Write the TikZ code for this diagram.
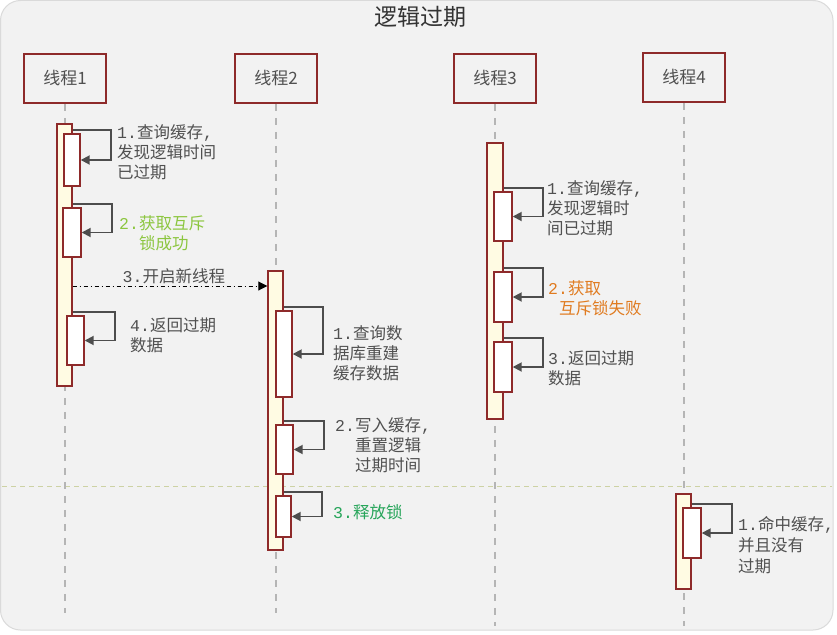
\documentclass[tikz,border=0pt]{standalone}
\usepackage{fontspec}
\setmainfont{Noto Sans CJK SC}
\newfontfamily\monof{Liberation Mono}
\usetikzlibrary{arrows.meta}
\definecolor{bgc}{HTML}{F2F2F2}
\definecolor{bgline}{HTML}{DADADA}
\definecolor{boxred}{HTML}{8E2A2A}
\definecolor{cream}{HTML}{FFFBE3}
\definecolor{txt}{HTML}{505050}
\definecolor{arr}{HTML}{4D4D4D}
\definecolor{lifec}{HTML}{B5B5B5}
\definecolor{sepc}{HTML}{CDD2A4}
\definecolor{lgreen}{HTML}{8CC63F}
\definecolor{dgreen}{HTML}{27A55A}
\definecolor{orng}{HTML}{E07B20}
\newcommand{\mn}[1]{{\monof #1}}
\tikzset{
  hdr/.style={draw=boxred, line width=1.6pt, fill=bgc, minimum width=82pt, minimum height=49pt, inner sep=0pt, text=txt, font=\fontsize{17}{20}\selectfont},
  obar/.style={draw=boxred, line width=1.4pt, fill=cream, inner sep=0pt},
  ibox/.style={draw=boxred, line width=1.4pt, fill=white, inner sep=0pt},
  life/.style={draw=lifec, line width=1.3pt, dash pattern=on 7pt off 7pt},
  loopar/.style={draw=arr, line width=1.8pt, -{Triangle[length=9pt,width=9pt]}},
  lbl/.style={anchor=base west, inner sep=0pt, align=left, text=txt, font=\fontsize{16.5}{20}\selectfont},
  call/.style={draw=black, line width=0.9pt, dash pattern=on 4pt off 3pt on 1pt off 3pt, -{Triangle[length=9pt,width=9pt]}},
}
\begin{document}
\begin{tikzpicture}[x=1pt,y=-1pt]
\useasboundingbox (0,0) rectangle (837,634);
\fill[white] (0,0) rectangle (837,634);
\draw[bgline, fill=bgc, line width=1pt, rounded corners=20pt] (0.5,0.5) rectangle (833,630);

% title
\node[inner sep=0pt, text=black!80, font=\fontsize{23}{26}\selectfont] (title) at (420,17) {逻辑过期};

% headers
\node[hdr] (h1) at (65,78.5) {线程1};
\node[hdr] (h2) at (276,78.5) {线程2};
\node[hdr] (h3) at (495,78.5) {线程3};
\node[hdr] (h4) at (684,77.5) {线程4};

% separator
\coordinate (sepL) at (2,486);
\coordinate (sepR) at (832,486);
\draw[sepc, line width=1pt, dash pattern=on 5pt off 4pt] (sepL) -- (sepR);

% lifelines
\coordinate (e1) at (65,613);
\coordinate (e2) at (276,613);
\coordinate (e3) at (495,626);
\coordinate (e4) at (684,626);
\draw[life] (h1.south) -- (e1);
\draw[life] (h2.south) -- (e2);
\draw[life] (h3.south) -- (e3);
\draw[life] (h4.south) -- (e4);

% activation bars
\node[obar, minimum width=15pt, minimum height=262pt] (o1) at (64.5,255) {};
\node[obar, minimum width=15pt, minimum height=279pt] (o2) at (275.5,410.5) {};
\node[obar, minimum width=16pt, minimum height=276pt] (o3) at (495,281) {};
\node[obar, minimum width=15pt, minimum height=95pt] (o4) at (683.5,541.5) {};

% inner boxes
\node[ibox, minimum width=16pt, minimum height=52pt] (i11) at (72,160) {};
\node[ibox, minimum width=18pt, minimum height=49pt] (i12) at (72,232.5) {};
\node[ibox, minimum width=17pt, minimum height=49pt] (i13) at (75.5,340.5) {};

\node[ibox, minimum width=16pt, minimum height=86pt] (i21) at (284,354) {};
\node[ibox, minimum width=17pt, minimum height=49pt] (i22) at (284.5,449.5) {};
\node[ibox, minimum width=15pt, minimum height=41pt] (i23) at (283.5,516.5) {};

\node[ibox, minimum width=18pt, minimum height=49pt] (i31) at (503,216.5) {};
\node[ibox, minimum width=18pt, minimum height=50pt] (i32) at (503,297) {};
\node[ibox, minimum width=18pt, minimum height=50pt] (i33) at (503,367) {};

\node[ibox, minimum width=18pt, minimum height=50pt] (i41) at (692,533) {};

% self loops
\foreach \o/\i in {o1/i11,o1/i12,o1/i13,o2/i21,o2/i22,o2/i23,o3/i31,o3/i32,o3/i33,o4/i41}{
  \draw[loopar] ([yshift=3pt]\i.north -| \o.east) -| ([xshift=30pt]\i.east) -- (\i.east);
}

% call arrow
\coordinate (cs) at (o1.east |- 0,286);
\draw[call] (cs) -- (o2.west |- cs)
  node[pos=0.52, anchor=base, yshift=4pt, inner sep=0pt, text=txt, font=\fontsize{16.5}{20}\selectfont] (c3) {\mn{3.}开启新线程};

% labels (anchor at baseline of the LAST line)
\node[lbl] (t11) at (117,178) {\mn{1.}查询缓存\mn{,}\\发现逻辑时间\\已过期};
\node[lbl, text=lgreen] (t12) at (119,249) {\mn{2.}获取互斥\\\hspace*{20pt}锁成功};
\node[lbl] (t14) at (130,351) {\mn{4.}返回过期\\数据};

\node[lbl] (t21) at (333,379) {\mn{1.}查询数\\据库重建\\缓存数据};
\node[lbl] (t22) at (335,471) {\mn{2.}写入缓存\mn{,}\\\hspace*{20pt}重置逻辑\\\hspace*{20pt}过期时间};
\node[lbl, text=dgreen] (t23) at (333,518) {\mn{3.}释放锁};

\node[lbl] (t31) at (547,234) {\mn{1.}查询缓存\mn{,}\\发现逻辑时\\间已过期};
\node[lbl, text=orng] (t32) at (548,314) {\mn{2.}获取\\\hspace*{11pt}互斥锁失败};
\node[lbl] (t33) at (548,384) {\mn{3.}返回过期\\数据};

\node[lbl, font=\fontsize{16.5}{21}\selectfont] (t41) at (738,572) {\mn{1.}命中缓存\mn{,}\\并且没有\\过期};
\end{tikzpicture}
\end{document}
